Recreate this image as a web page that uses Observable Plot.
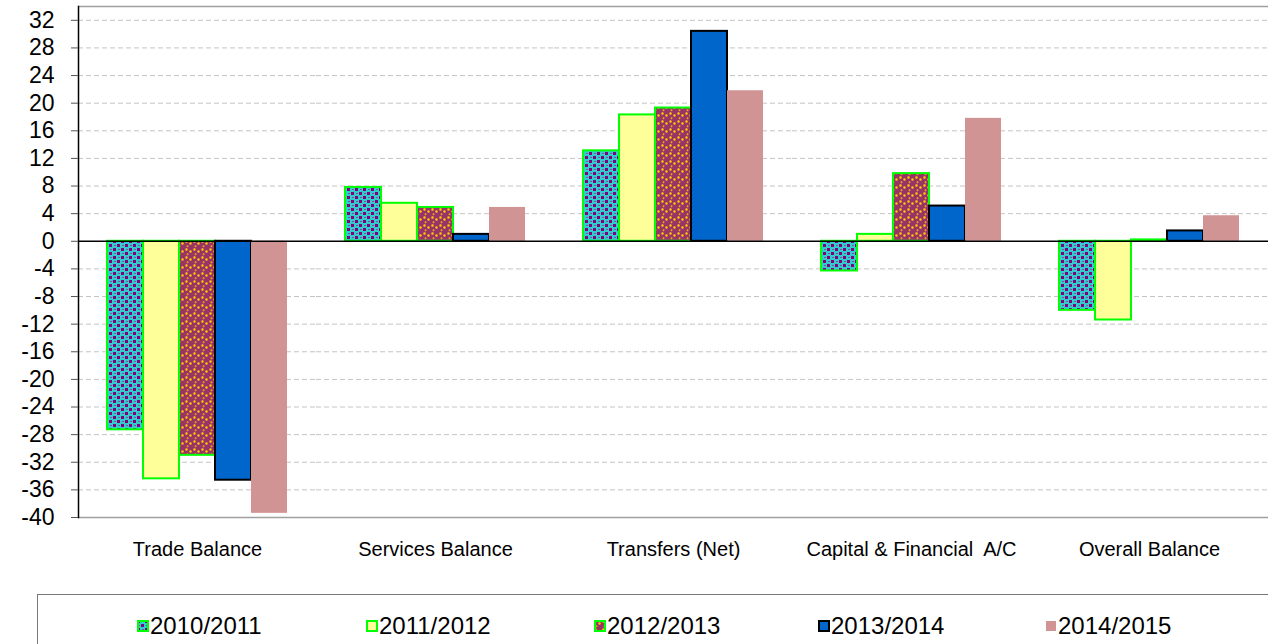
<!DOCTYPE html>
<html>
<head>
<meta charset="utf-8">
<script src="https://cdn.jsdelivr.net/npm/d3@7"></script>
<script src="https://cdn.jsdelivr.net/npm/@observablehq/plot@0.6"></script>
<style>
  html, body { margin: 0; padding: 0; background: #fff; overflow: hidden; }
  body { font-family: "Liberation Sans", Arial, sans-serif; width: 1268px; height: 644px; position: relative; }
  #chart svg { display: block; overflow: visible; font-family: "Liberation Sans", Arial, sans-serif; }
  #legend {
    position: absolute; left: 37px; top: 594px; width: 1240px; height: 70px;
    border-top: 1.5px solid #777; border-left: 1.5px solid #777; box-sizing: border-box;
  }
  .item { position: absolute; top: 18px; display: flex; align-items: center; font-size: 24px; color: #000; line-height: 26px; }
  .item svg { margin-right: 1px; }
  pattern rect { shape-rendering: crispEdges; }
</style>
</head>
<body>
<svg width="0" height="0" style="position:absolute">
  <defs>
    <pattern id="pat2010" width="8" height="8" patternUnits="userSpaceOnUse">
      <rect width="8" height="8" fill="#33CCCC"/>
      <rect x="0" y="0" width="3" height="3" fill="#800080"/>
      <rect x="4" y="4" width="3" height="3" fill="#800080"/>
      <rect x="5" y="1" width="2" height="1" fill="#6a5aa0"/>
      <rect x="1" y="5" width="2" height="1" fill="#6a5aa0"/>
    </pattern>
    <pattern id="pat2012" width="8" height="8" patternUnits="userSpaceOnUse">
      <rect width="8" height="8" fill="#993366"/>
      <circle cx="1.5" cy="1.5" r="1.2" fill="#FFCC00"/>
      <circle cx="5.5" cy="3.5" r="1.2" fill="#FFCC00"/>
      <circle cx="2.5" cy="6.2" r="1" fill="#E6A81A"/>
    </pattern>
  </defs>
</svg>
<div id="chart"></div>
<div id="legend"></div>
<script>
const categories = ["Trade Balance", "Services Balance", "Transfers (Net)", "Capital & Financial  A/C", "Overall Balance"];
const seriesNames = ["2010/2011", "2011/2012", "2012/2013", "2013/2014", "2014/2015"];
const v2010 = [-27.3, 7.8, 13.1, -4.3, -10.0];
const v2011 = [-34.4, 5.5, 18.3, 1.0, -11.4];
const v2012 = [-31.0, 4.9, 19.3, 9.8, 0.2];
const v2013 = [-34.6, 1.0, 30.4, 5.1, 1.5];
const v2014 = [-39.4, 4.9, 21.8, 17.8, 3.7];
const yTicks = [-40, -36, -32, -28, -24, -20, -16, -12, -8, -4, 0, 4, 8, 12, 16, 20, 24, 28, 32];
const yDomain = [-40, 34];

const fills = ["url(#pat2010)", "#FFFF99", "url(#pat2012)", "#0066CC", "#D19494"];
const strokes = ["#00FF00", "#00FF00", "#00FF00", "#000000", "none"];

const allValues = [v2010, v2011, v2012, v2013, v2014];
const data = [];
categories.forEach((c, i) => {
  seriesNames.forEach((s, j) => {
    data.push({category: c, series: s, value: allValues[j][i]});
  });
});

const fillOf = new Map(seriesNames.map((s, j) => [s, fills[j]]));
const strokeOf = new Map(seriesNames.map((s, j) => [s, strokes[j]]));

const plot = Plot.plot({
  width: 1268,
  height: 575,
  marginLeft: 77,
  marginRight: 0,
  marginTop: 6,
  marginBottom: 58,
  style: {fontFamily: "Liberation Sans, Arial, sans-serif", color: "#000", background: "transparent"},
  fx: {domain: categories, padding: 0, label: null, axis: null},
  x: {domain: seriesNames, paddingInner: 0, paddingOuter: 0.72, axis: null},
  y: {domain: yDomain, axis: null},
  marks: [
    Plot.ruleY(yTicks.filter(v => v !== 0 && v !== yDomain[0]), {stroke: "#c4c4c4", strokeDasharray: "5,3", strokeWidth: 1}),
    Plot.ruleY(yDomain, {stroke: "#a0a0a0", strokeWidth: 1.5}),
    Plot.barY(data, {
      fx: "category", x: "series", y: "value",
      fill: d => fillOf.get(d.series),
      stroke: d => strokeOf.get(d.series),
      strokeWidth: 2,
      insetLeft: 0, insetRight: 0
    }),
    Plot.ruleY([0], {stroke: "#000", strokeWidth: 1.5}),
    Plot.frame({anchor: "left", facetAnchor: "left", stroke: "#000", strokeWidth: 1.5}),
    Plot.axisY(yTicks, {tickSize: 7, tickPadding: 17, fontSize: 23, tickFormat: d => `${d}`, stroke: "#555", fill: "#000", label: null}),
    Plot.axisFx({anchor: "bottom", tickSize: 0, tickPadding: 24, fontSize: 20, fill: "#000", label: null})
  ]
});
document.getElementById("chart").appendChild(plot);

// legend
const legend = document.getElementById("legend");
const legendLeft = [99, 328, 556, 780, 1007];
seriesNames.forEach((s, j) => {
  const item = document.createElement("div");
  item.className = "item";
  item.style.left = legendLeft[j] + "px";
  const sw = document.createElementNS("http://www.w3.org/2000/svg", "svg");
  sw.setAttribute("width", 12);
  sw.setAttribute("height", 12);
  const r = document.createElementNS("http://www.w3.org/2000/svg", "rect");
  r.setAttribute("x", 1); r.setAttribute("y", 1);
  r.setAttribute("width", 10); r.setAttribute("height", 10);
  r.setAttribute("fill", fills[j]);
  r.setAttribute("stroke", strokes[j]);
  r.setAttribute("stroke-width", strokes[j] === "none" ? 0 : 2);
  sw.appendChild(r);
  item.appendChild(sw);
  const t = document.createElement("span");
  t.textContent = s;
  item.appendChild(t);
  legend.appendChild(item);
});
</script>
</body>
</html>
